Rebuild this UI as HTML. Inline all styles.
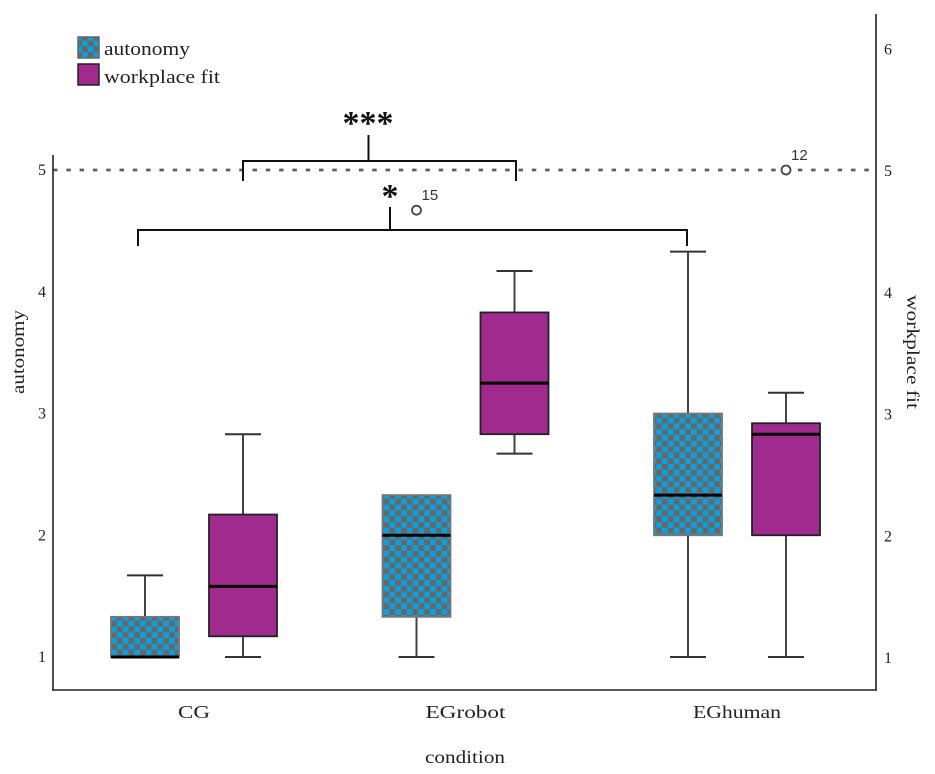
<!DOCTYPE html>
<html>
<head>
<meta charset="utf-8">
<style>
html,body{margin:0;padding:0;background:#fff;width:935px;height:774px;overflow:hidden}
svg{display:block}
text{font-family:"Liberation Serif",serif;fill:#222}
.sans{font-family:"Liberation Sans",sans-serif;fill:#333}
</style>
</head>
<body>
<svg id="chart" xmlns="http://www.w3.org/2000/svg" width="935" height="774" viewBox="0 0 935 774">
<defs>
<pattern id="checker" width="11.6" height="11.6" patternUnits="userSpaceOnUse" x="111" y="0">
<rect width="11.6" height="11.6" fill="#676767"/>
<rect width="5.8" height="5.8" fill="#0b9fdc"/>
<rect x="5.8" y="5.8" width="5.8" height="5.8" fill="#0b9fdc"/>
</pattern>
</defs>
<g>
<rect x="78" y="37" width="21" height="21" fill="url(#checker)" stroke="#666" stroke-width="1.5"/>
<text x="104" y="55" font-size="19" textLength="86" lengthAdjust="spacingAndGlyphs">autonomy</text>
<rect x="78" y="64" width="21" height="21" fill="#a02a8e" stroke="#222" stroke-width="1.5"/>
<text x="104" y="83" font-size="19" textLength="116" lengthAdjust="spacingAndGlyphs">workplace fit</text>
</g>
<line x1="53" y1="170" x2="876" y2="170" stroke="#5f5f5f" stroke-width="2.8" stroke-dasharray="4.500 8.800"/>
<g id="axes"></g>
<g id="marks"></g>
<g fill="none" stroke="#111" stroke-width="2">
<path d="M243 181V161H516V181M368.500 161V135"/>
<path d="M138 246V230H687V246M390 230V207"/>
</g>
<text x="368" y="134" font-size="34" font-weight="bold" text-anchor="middle" style="fill:#111">***</text>
<text x="390" y="207" font-size="34" font-weight="bold" text-anchor="middle" style="fill:#111">*</text>
<text x="0" y="0" font-size="18" text-anchor="middle" textLength="84" lengthAdjust="spacingAndGlyphs" transform="translate(24 352) rotate(-90)">autonomy</text>
<text x="0" y="0" font-size="18" text-anchor="middle" textLength="114" lengthAdjust="spacingAndGlyphs" transform="translate(907 352) rotate(90)">workplace fit</text>
<text x="465" y="763" font-size="18" text-anchor="middle" textLength="80" lengthAdjust="spacingAndGlyphs">condition</text>
</svg>
<script>
var categories = ['CG', 'EGrobot', 'EGhuman'];
var leftTicks = [1, 2, 3, 4, 5];
var rightTicks = [1, 2, 3, 4, 5, 6];
var autonomyLow = [1, 1, 1];
var autonomyQ1 = [1, 1.33, 2];
var autonomyMedian = [1, 2, 2.33];
var autonomyQ3 = [1.33, 2.33, 3];
var autonomyHigh = [1.67, 2.33, 4.33];
var workplaceLow = [1, 2.67, 1];
var workplaceQ1 = [1.17, 2.83, 2];
var workplaceMedian = [1.58, 3.25, 2.83];
var workplaceQ3 = [2.17, 3.83, 2.92];
var workplaceHigh = [2.83, 4.17, 3.17];
var autonomyOutlierValues = [4.67];
var autonomyOutlierCategories = [1];
var autonomyOutlierLabels = ['15'];
var workplaceOutlierValues = [5];
var workplaceOutlierCategories = [2];
var workplaceOutlierLabels = ['12'];

var NS = 'http://www.w3.org/2000/svg';
function yScale(v) { return 657 - (v - 1) * 121.75; }
function xCenter(i) { return 194 + i * 271.5; }
function xAutonomy(i) { return xCenter(i) - 49; }
function xWorkplace(i) { return xCenter(i) + 49; }
function make(parent, tag, attrs) {
  var el = document.createElementNS(NS, tag);
  for (var k in attrs) { el.setAttribute(k, attrs[k]); }
  parent.appendChild(el);
  return el;
}
var axes = document.getElementById('axes');
var marks = document.getElementById('marks');

var leftLine = make(axes, 'line', {x1: 53, y1: 155, x2: 53, y2: 690, stroke: '#222', 'stroke-width': 1.6});


var bottomLine = make(axes, 'line', {x1: 52, y1: 690, x2: 877, y2: 690, stroke: '#222', 'stroke-width': 1.6});


var rightLine = make(axes, 'line', {x1: 876, y1: 14, x2: 876, y2: 690, stroke: '#222', 'stroke-width': 1.6});



leftTicks.forEach(function (t) {
  var el = make(axes, 'text', {x: 42, y: yScale(t) + 5, 'font-size': 16, 'text-anchor': 'middle'});
  el.textContent = t;
  
  
});
rightTicks.forEach(function (t) {
  var el = make(axes, 'text', {x: 888, y: yScale(t) + 6, 'font-size': 16, 'text-anchor': 'middle'});
  el.textContent = t;
  
  
});
var tickLabelWidths = [32, 80, 88];
categories.forEach(function (c, i) {
  var el = make(axes, 'text', {x: xCenter(i), y: 718, 'font-size': 18, 'text-anchor': 'middle', textLength: tickLabelWidths[i], lengthAdjust: 'spacingAndGlyphs'});
  el.textContent = c;
  
  
});

function drawBox(cx, low, q1, med, q3, high, fill, boxStroke) {
  var g = make(marks, 'g', {});
  
  
  var hw = 34, cap = 18;
  var upper = make(g, 'line', {x1: cx, x2: cx, y1: yScale(high), y2: yScale(q3), stroke: '#444', 'stroke-width': 2});
  
  
  var lower = make(g, 'line', {x1: cx, x2: cx, y1: yScale(q1), y2: yScale(low), stroke: '#444', 'stroke-width': 2});
  
  
  if (high > q3) {
    var capTop = make(g, 'line', {x1: cx - cap, x2: cx + cap, y1: yScale(high), y2: yScale(high), stroke: '#333', 'stroke-width': 2});
    
    
  }
  if (low < q1) {
    var capBottom = make(g, 'line', {x1: cx - cap, x2: cx + cap, y1: yScale(low), y2: yScale(low), stroke: '#333', 'stroke-width': 2});
    
    
  }
  var box = make(g, 'rect', {x: cx - hw, y: yScale(q3), width: hw * 2, height: yScale(q1) - yScale(q3), fill: fill, stroke: boxStroke, 'stroke-width': 1.8});
  
  
  var m = make(g, 'line', {x1: cx - hw, x2: cx + hw, y1: yScale(med), y2: yScale(med), stroke: '#000', 'stroke-width': 3});
  
  
}
categories.forEach(function (c, i) {
  drawBox(xAutonomy(i), autonomyLow[i], autonomyQ1[i], autonomyMedian[i], autonomyQ3[i], autonomyHigh[i], 'url(#checker)', '#777');
  drawBox(xWorkplace(i), workplaceLow[i], workplaceQ1[i], workplaceMedian[i], workplaceQ3[i], workplaceHigh[i], '#a02a8e', '#222');
});

function drawOutlier(cx, v, label) {
  var p = make(marks, 'circle', {cx: cx, cy: yScale(v), r: 4.5, fill: '#fff', stroke: '#444', 'stroke-width': 1.8});
  
  
  var t = make(marks, 'text', {x: cx + 5, y: yScale(v) - 10, 'font-size': 15, 'class': 'sans'});
  t.textContent = label;
  
  
}
autonomyOutlierValues.forEach(function (v, k) {
  drawOutlier(xAutonomy(autonomyOutlierCategories[k]), v, autonomyOutlierLabels[k]);
});
workplaceOutlierValues.forEach(function (v, k) {
  drawOutlier(xWorkplace(workplaceOutlierCategories[k]), v, workplaceOutlierLabels[k]);
});
</script>
</body>
</html>
